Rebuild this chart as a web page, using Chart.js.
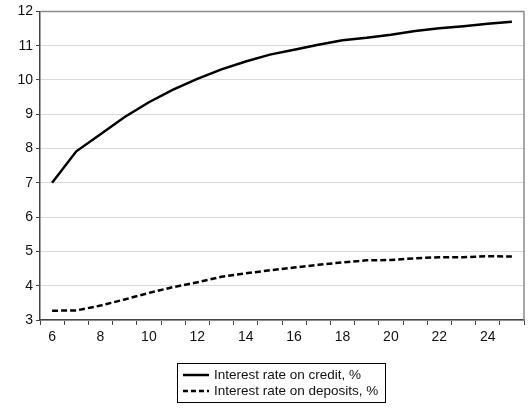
<!DOCTYPE html>
<html>
<head>
<meta charset="utf-8">
<script src="https://cdn.jsdelivr.net/npm/chart.js@4"></script>
<style>
  html, body { margin: 0; padding: 0; background: #fff; }
  #wrap { position: relative; width: 531px; height: 408px; }
  #legend {
    position: absolute; left: 177px; top: 363px; width: 209px; height: 40px;
    box-sizing: border-box; border: 1px solid #000; padding: 3px 0 0 5px;
    font: 13.5px "Liberation Sans", Arial, sans-serif; color: #111;
  }
  #legend div { height: 16px; line-height: 16px; white-space: nowrap; }
  #legend svg { vertical-align: middle; margin-right: 5px; }
</style>
</head>
<body>
<div id="wrap">
  <canvas id="chart" width="531" height="408"></canvas>
  <div id="legend"></div>
</div>
<script>
const years = [6, 7, 8, 9, 10, 11, 12, 13, 14, 15, 16, 17, 18, 19, 20, 21, 22, 23, 24, 25];
const creditRate = [7.0, 7.92, 8.42, 8.92, 9.35, 9.72, 10.03, 10.31, 10.54, 10.74,
                    10.88, 11.03, 11.16, 11.23, 11.32, 11.43, 11.51, 11.57, 11.64, 11.70];
const depositRate = [3.27, 3.28, 3.42, 3.6, 3.79, 3.96, 4.1, 4.26, 4.36, 4.45,
                     4.53, 4.61, 4.68, 4.74, 4.75, 4.8, 4.83, 4.83, 4.86, 4.85];
const seriesLabels = ["Interest rate on credit, %", "Interest rate on deposits, %"];
const yMin = 3, yMax = 12;

const font = { family: "'Liberation Sans', Arial, sans-serif", size: 14 };

// top and right frame of the plot area
const frame = {
    id: "frame",
    afterDraw(chart) {
        const a = chart.chartArea, ctx = chart.ctx;
        ctx.save();
        ctx.strokeStyle = "#8a8a8a";
        ctx.lineWidth = 1.5;
        ctx.beginPath();
        ctx.moveTo(a.left, a.top);
        ctx.lineTo(a.right, a.top);
        ctx.lineTo(a.right, a.bottom);
        ctx.stroke();
        ctx.restore();
    }
};

const chart = new Chart(document.getElementById("chart"), {
    type: "line",
    data: {
        labels: years,
        datasets: [
            { label: seriesLabels[0], data: creditRate, borderColor: "#000", borderWidth: 2.5,
              pointRadius: 0, tension: 0, fill: false, dash: [] },
            { label: seriesLabels[1], data: depositRate, borderColor: "#000", borderWidth: 2.5,
              borderDash: [6, 3], pointRadius: 0, tension: 0, fill: false, dash: [5, 3] }
        ]
    },
    options: {
        responsive: false,
        animation: false,
        layout: { padding: { left: 0, top: 9, right: 7, bottom: 63 } },
        plugins: { legend: { display: false }, tooltip: { enabled: false } },
        scales: {
            x: {
                type: "category",
                offset: true,
                grid: { display: true, drawOnChartArea: false, offset: true, tickLength: 5, color: "#444", lineWidth: 1 },
                border: { display: true, color: "#444", width: 1.5 },
                ticks: {
                    autoSkip: false, maxRotation: 0, padding: 4, color: "#111", font: font,
                    callback: function (v, i) { return years[i] % 2 === 0 ? String(years[i]) : ""; }
                },
                afterFit(scale) { scale.height = 25; }
            },
            y: {
                min: yMin, max: yMax,
                grid: { color: "#d9d9d9", lineWidth: 1, tickLength: 4, tickColor: "#444" },
                border: { display: true, color: "#444", width: 1.5 },
                ticks: { stepSize: 1, padding: 3, color: "#111", font: font },
                afterFit(scale) { scale.width = 40; }
            }
        }
    },
    plugins: [frame]
});

// legend box built from the chart's datasets
const legend = document.getElementById("legend");
chart.data.datasets.forEach(ds => {
    const row = document.createElement("div");
    row.innerHTML = `<svg width="26" height="4"><line x1="0" y1="2" x2="26" y2="2" stroke="#000" stroke-width="2.5" stroke-dasharray="${ds.dash.join(" ")}"/></svg>${ds.label}`;
    legend.appendChild(row);
});
</script>
</body>
</html>
